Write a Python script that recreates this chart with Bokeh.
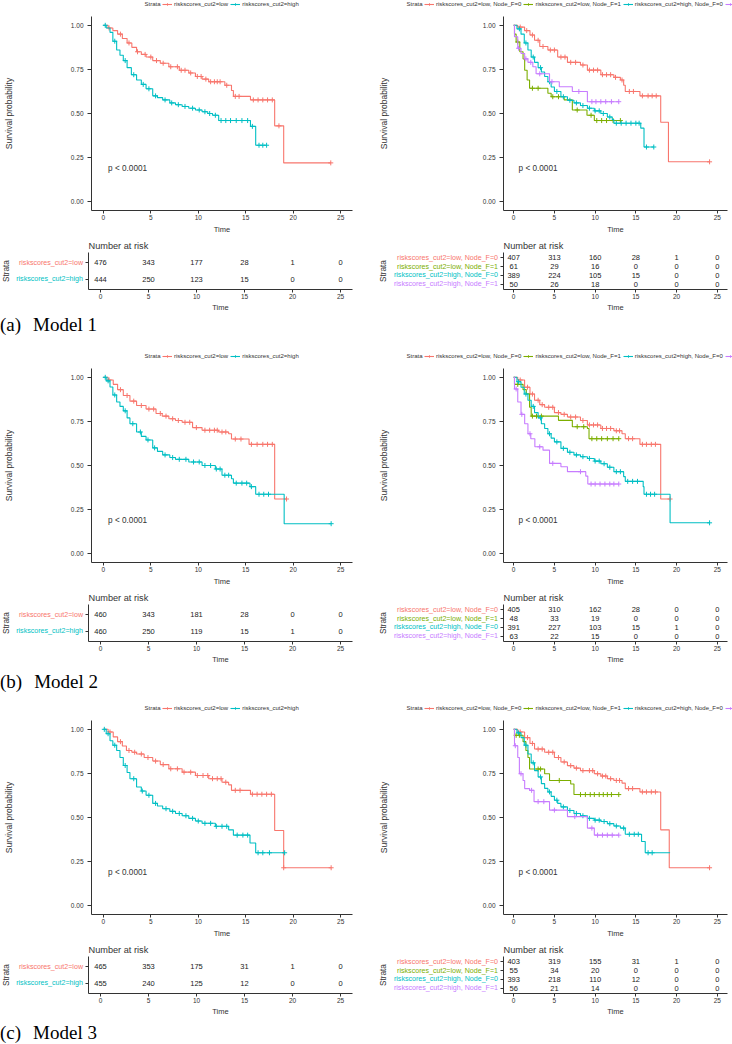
import numpy as np
from bokeh.plotting import figure
from bokeh.models import (Legend, LegendItem, Label, FixedTicker, NumeralTickFormatter,
                          Div, Range1d)
from bokeh.layouts import column, row
from bokeh.embed import file_html
from bokeh.resources import INLINE
from bokeh.core.properties import value

FONT = "Liberation Sans"
AX = "#333333"

# ---------------- shared labels ----------------
TIMES = [0, 5, 10, 15, 20, 25]
SURV_TICKS = [0.0, 0.25, 0.5, 0.75, 1.0]
P_TEXT = "p < 0.0001"
STRATA2 = ["riskscores_cut2=low", "riskscores_cut2=high"]
STRATA4 = ["riskscores_cut2=low, Node_F=0", "riskscores_cut2=low, Node_F=1",
           "riskscores_cut2=high, Node_F=0", "riskscores_cut2=high, Node_F=1"]
COLORS2 = ["#F8766D", "#00BFC4"]
COLORS4 = ["#F8766D", "#7CAE00", "#00BFC4", "#C77CFF"]
CAPTIONS = ["(a)", "(b)", "(c)"]
MODELS = ["Model 1", "Model 2", "Model 3"]

# ---------------- Model 1 ----------------
m1_low_t = [0, 0.5, 1.0, 1.5, 2.0, 2.5, 3.0, 3.5, 4.0, 4.5, 5.2, 6.0, 6.9, 8.0, 9.0, 9.7, 10.4, 11.1, 12.8, 13.5, 13.7, 15.5, 18.05, 19.0, 23.96]
m1_low_s = [1.0, 0.985, 0.97, 0.95, 0.925, 0.90, 0.875, 0.85, 0.835, 0.82, 0.80, 0.785, 0.765, 0.745, 0.73, 0.71, 0.695, 0.68, 0.66, 0.63, 0.597, 0.577, 0.43, 0.22, 0.22]
m1_high_t = [0, 0.3, 0.7, 1.0, 1.4, 1.75, 2.1, 2.5, 2.95, 3.5, 4.0, 4.5, 5.2, 5.7, 6.25, 7.0, 7.6, 8.3, 9.0, 9.7, 10.4, 11.0, 11.5, 12.15, 15.5, 16.05, 17.2]
m1_high_s = [1.0, 0.985, 0.96, 0.91, 0.86, 0.83, 0.80, 0.76, 0.72, 0.69, 0.665, 0.64, 0.60, 0.59, 0.577, 0.56, 0.55, 0.54, 0.53, 0.52, 0.51, 0.50, 0.49, 0.46, 0.427, 0.32, 0.32]
m1_low_cens = [0.6, 1.8, 2.7, 3.6, 4.4, 5.0, 5.6, 6.3, 7.1, 7.8, 8.2, 8.6, 9.2, 9.9, 10.3, 10.8, 11.3, 11.7, 12.0, 12.3, 13.0, 13.9, 14.3, 15.8, 16.3, 16.8, 17.3, 17.8, 18.5, 23.96]
m1_high_cens = [0.2, 1.2, 2.3, 3.2, 4.2, 4.8, 5.5, 6.5, 7.2, 7.9, 8.6, 9.4, 10.1, 10.7, 11.2, 11.8, 12.4, 12.9, 13.4, 14.0, 14.6, 15.2, 15.7, 16.4, 16.8, 17.2]

m1_lf0_t = [0, 0.5, 1.34, 2.0, 2.56, 3.2, 4.2, 5.4, 6.6, 8.2, 9.05, 10.7, 12.3, 13.1, 13.5, 13.7, 15.5, 18.05, 19.0, 24.05]
m1_lf0_s = [1.0, 0.99, 0.97, 0.945, 0.915, 0.88, 0.86, 0.82, 0.79, 0.775, 0.746, 0.72, 0.705, 0.69, 0.66, 0.625, 0.60, 0.45, 0.226, 0.226]
m1_lf1_t = [0, 0.1, 0.3, 0.75, 1.15, 1.35, 1.65, 1.95, 4.2, 4.6, 6.2, 7.2, 9.0, 9.9, 13.1]
m1_lf1_s = [1.0, 0.95, 0.905, 0.85, 0.81, 0.745, 0.69, 0.643, 0.615, 0.595, 0.577, 0.52, 0.49, 0.46, 0.46]
m1_hf0_t = [0, 0.4, 0.9, 1.3, 1.75, 2.15, 2.56, 3.0, 3.4, 3.8, 4.2, 4.6, 5.0, 5.8, 6.6, 7.4, 8.2, 9.05, 9.9, 10.7, 11.5, 12.1, 12.3, 15.6, 16.0, 17.2]
m1_hf0_s = [1.0, 0.98, 0.95, 0.90, 0.86, 0.82, 0.79, 0.76, 0.735, 0.71, 0.68, 0.65, 0.625, 0.595, 0.575, 0.56, 0.545, 0.53, 0.515, 0.50, 0.48, 0.465, 0.445, 0.417, 0.31, 0.31]
m1_hf1_t = [0, 0.1, 0.5, 0.9, 1.35, 1.75, 2.35, 2.75, 4.4, 5.6, 7.2, 9.05, 12.9]
m1_hf1_s = [1.0, 0.935, 0.87, 0.84, 0.81, 0.79, 0.765, 0.725, 0.68, 0.652, 0.625, 0.567, 0.567]
m1_lf0_cens = [0.8, 1.6, 2.3, 3.0, 3.6, 4.5, 5.0, 5.8, 6.3, 7.0, 7.6, 8.5, 9.3, 9.8, 10.3, 10.9, 11.4, 11.9, 12.5, 13.3, 14.2, 14.7, 15.8, 16.5, 17.0, 17.5, 24.05]
m1_lf1_cens = [0.5, 2.3, 3.0, 4.8, 5.5, 7.8, 9.5, 10.2, 10.8, 11.4, 12.2, 13.1]
m1_hf0_cens = [0.7, 1.5, 2.4, 3.3, 4.4, 5.3, 6.1, 6.9, 7.7, 8.5, 9.3, 10.0, 10.5, 11.0, 11.8, 12.6, 13.2, 13.8, 14.4, 15.0, 15.4, 16.3, 17.2]
m1_hf1_cens = [0.6, 1.5, 2.1, 3.2, 4.7, 8.0, 9.6, 10.1, 10.7, 11.3, 12.0, 12.9]

m1_risk2 = [[476, 343, 177, 28, 1, 0], [444, 250, 123, 15, 0, 0]]
m1_risk4 = [[407, 313, 160, 28, 1, 0], [61, 29, 16, 0, 0, 0], [389, 224, 105, 15, 0, 0], [50, 26, 18, 0, 0, 0]]

# ---------------- Model 2 ----------------
m2_low_t = [0, 0.5, 1.04, 1.5, 2.1, 2.8, 3.5, 4.5, 5.55, 6.2, 6.9, 7.6, 8.3, 9.4, 10.4, 12.15, 13.2, 13.5, 15.35, 18.05, 19.3]
m2_low_s = [1.0, 0.985, 0.96, 0.93, 0.897, 0.865, 0.84, 0.82, 0.795, 0.78, 0.765, 0.755, 0.745, 0.715, 0.70, 0.69, 0.68, 0.65, 0.62, 0.31, 0.31]
m2_high_t = [0, 0.3, 0.7, 1.0, 1.4, 1.75, 2.1, 2.5, 2.8, 3.5, 4.0, 4.5, 5.2, 5.7, 6.25, 7.0, 7.6, 9.0, 10.4, 11.8, 12.5, 13.5, 13.7, 15.45, 16.05, 19.05, 24.0]
m2_high_s = [1.0, 0.98, 0.945, 0.90, 0.86, 0.835, 0.81, 0.77, 0.737, 0.69, 0.665, 0.645, 0.60, 0.58, 0.56, 0.545, 0.535, 0.52, 0.50, 0.48, 0.445, 0.425, 0.40, 0.38, 0.337, 0.17, 0.17]
m2_low_cens = [0.6, 1.8, 2.5, 3.2, 4.0, 4.8, 5.3, 6.0, 6.6, 7.3, 7.9, 8.6, 9.1, 9.8, 10.7, 11.2, 11.7, 12.0, 12.5, 12.9, 13.9, 14.5, 15.6, 16.2, 16.8, 17.3, 17.8, 19.3]
m2_high_cens = [0.2, 0.5, 1.2, 2.3, 3.1, 3.9, 4.7, 5.4, 6.5, 7.3, 8.0, 8.7, 9.5, 10.1, 10.7, 11.3, 11.9, 12.3, 12.8, 13.2, 14.0, 14.6, 15.1, 15.6, 16.4, 16.9, 17.4, 24.0]

m2_lf0_t = [0, 0.5, 1.34, 2.0, 2.56, 3.2, 3.8, 5.0, 5.8, 6.6, 8.2, 9.05, 10.7, 12.3, 13.3, 13.7, 15.5, 18.05, 19.2]
m2_lf0_s = [1.0, 0.985, 0.944, 0.905, 0.87, 0.845, 0.83, 0.80, 0.79, 0.775, 0.755, 0.73, 0.71, 0.697, 0.68, 0.652, 0.62, 0.31, 0.31]
m2_lf1_t = [0, 0.1, 1.15, 1.55, 1.95, 2.15, 5.5, 7.2, 9.05, 9.25, 12.9]
m2_lf1_s = [1.0, 0.96, 0.93, 0.906, 0.83, 0.78, 0.756, 0.72, 0.71, 0.652, 0.652]
m2_hf0_t = [0, 0.4, 0.9, 1.3, 1.75, 2.15, 2.56, 3.0, 3.4, 3.8, 4.2, 4.6, 5.0, 5.8, 6.6, 7.4, 8.2, 9.05, 9.9, 10.7, 11.5, 12.3, 13.5, 13.7, 15.9, 16.0, 19.2, 24.05]
m2_hf0_s = [1.0, 0.975, 0.944, 0.905, 0.87, 0.835, 0.80, 0.77, 0.737, 0.71, 0.68, 0.655, 0.634, 0.597, 0.575, 0.56, 0.55, 0.54, 0.525, 0.51, 0.49, 0.465, 0.437, 0.41, 0.38, 0.337, 0.175, 0.175]
m2_hf1_t = [0, 0.1, 0.5, 0.9, 1.35, 1.75, 2.1, 2.6, 3.6, 4.4, 5.8, 6.6, 8.85, 9.1, 12.9]
m2_hf1_s = [1.0, 0.934, 0.86, 0.79, 0.737, 0.68, 0.652, 0.606, 0.587, 0.512, 0.493, 0.465, 0.44, 0.395, 0.395]
m2_lf0_cens = [0.8, 1.7, 2.3, 3.0, 3.5, 4.3, 4.8, 5.5, 6.2, 7.0, 7.6, 8.5, 9.3, 9.8, 10.3, 10.9, 11.4, 11.9, 12.6, 13.0, 14.1, 14.6, 15.8, 16.3, 16.9, 17.4, 19.2]
m2_lf1_cens = [0.5, 2.3, 2.8, 3.4, 7.8, 8.6, 9.6, 10.2, 10.8, 11.5, 12.2, 12.9]
m2_hf0_cens = [0.6, 1.5, 2.4, 3.3, 4.4, 5.3, 6.1, 6.9, 7.7, 8.5, 9.3, 10.0, 10.5, 11.1, 11.8, 12.6, 13.1, 14.0, 14.6, 15.2, 16.3, 16.8, 17.3, 24.05]
m2_hf1_cens = [0.3, 1.0, 2.0, 3.2, 4.8, 8.2, 9.5, 10.0, 10.6, 11.2, 11.8, 12.3, 12.9]

m2_risk2 = [[460, 343, 181, 28, 0, 0], [460, 250, 119, 15, 1, 0]]
m2_risk4 = [[405, 310, 162, 28, 0, 0], [48, 33, 19, 0, 0, 0], [391, 227, 103, 15, 1, 0], [63, 22, 15, 0, 0, 0]]

# ---------------- Model 3 ----------------
m3_low_t = [0, 0.5, 1.04, 1.5, 2.0, 2.43, 3.0, 3.5, 4.3, 5.2, 6.0, 6.9, 8.3, 9.7, 11.1, 12.5, 13.2, 13.5, 15.5, 18.05, 19.0, 24.0]
m3_low_s = [1.0, 0.985, 0.957, 0.93, 0.905, 0.88, 0.87, 0.86, 0.84, 0.82, 0.80, 0.776, 0.757, 0.738, 0.72, 0.70, 0.685, 0.654, 0.632, 0.426, 0.215, 0.215]
m3_high_t = [0, 0.3, 0.7, 1.0, 1.4, 1.75, 2.1, 2.5, 2.8, 3.5, 4.0, 4.5, 5.2, 5.7, 6.25, 7.0, 7.6, 8.3, 9.0, 9.7, 10.4, 11.8, 13.2, 13.7, 15.45, 16.05, 19.1]
m3_high_s = [1.0, 0.975, 0.935, 0.91, 0.88, 0.84, 0.795, 0.755, 0.72, 0.673, 0.65, 0.626, 0.58, 0.565, 0.55, 0.535, 0.523, 0.51, 0.495, 0.48, 0.467, 0.45, 0.43, 0.40, 0.355, 0.30, 0.30]
m3_low_cens = [0.7, 1.8, 2.7, 3.3, 4.0, 4.7, 5.5, 6.3, 7.1, 7.8, 8.5, 9.2, 9.9, 10.5, 11.0, 11.5, 12.0, 12.4, 12.9, 13.9, 14.4, 15.7, 16.2, 16.7, 17.2, 17.7, 19.0, 24.0]
m3_high_cens = [0.1, 0.5, 1.2, 2.3, 3.2, 4.1, 4.8, 5.5, 6.6, 7.3, 8.0, 8.7, 9.4, 10.0, 10.7, 11.3, 11.9, 12.5, 13.0, 14.1, 14.7, 15.2, 16.3, 16.8, 17.5, 19.1]

m3_lf0_t = [0, 0.5, 1.34, 2.0, 2.56, 3.8, 5.0, 5.8, 6.6, 7.4, 8.2, 9.9, 10.7, 11.5, 12.3, 13.3, 13.7, 15.5, 18.05, 19.1, 24.05]
m3_lf0_s = [1.0, 0.985, 0.953, 0.92, 0.888, 0.87, 0.84, 0.815, 0.794, 0.78, 0.766, 0.748, 0.735, 0.72, 0.71, 0.695, 0.664, 0.645, 0.43, 0.215, 0.215]
m3_lf1_t = [0, 0.1, 1.15, 1.5, 1.75, 1.95, 3.8, 4.4, 7.0, 7.4, 12.9]
m3_lf1_s = [1.0, 0.966, 0.93, 0.88, 0.84, 0.775, 0.748, 0.71, 0.69, 0.63, 0.63]
m3_hf0_t = [0, 0.4, 0.9, 1.3, 1.75, 2.15, 2.56, 3.0, 3.4, 3.8, 4.2, 4.6, 5.0, 5.4, 5.8, 6.6, 7.4, 8.2, 9.05, 9.9, 10.7, 11.5, 12.3, 13.1, 13.7, 15.7, 16.15, 19.2]
m3_hf0_s = [1.0, 0.98, 0.953, 0.91, 0.86, 0.81, 0.766, 0.73, 0.692, 0.665, 0.645, 0.62, 0.598, 0.58, 0.56, 0.54, 0.523, 0.51, 0.495, 0.485, 0.477, 0.465, 0.452, 0.44, 0.405, 0.364, 0.30, 0.30]
m3_hf1_t = [0, 0.1, 0.5, 0.7, 1.15, 1.35, 1.95, 2.5, 4.4, 6.6, 9.05, 9.9, 12.9]
m3_hf1_s = [1.0, 0.907, 0.84, 0.748, 0.71, 0.664, 0.654, 0.59, 0.542, 0.505, 0.44, 0.40, 0.40]
m3_lf0_cens = [0.8, 1.7, 2.3, 3.0, 3.5, 4.3, 4.8, 5.5, 6.2, 7.0, 7.7, 8.5, 9.3, 9.7, 10.3, 10.9, 11.3, 11.9, 12.6, 13.0, 14.1, 14.6, 15.8, 16.3, 16.9, 17.4, 24.05]
m3_lf1_cens = [0.3, 0.7, 3.0, 3.3, 5.6, 8.2, 8.8, 9.4, 9.9, 10.5, 11.0, 11.5, 12.0, 12.9]
m3_hf0_cens = [0.6, 1.5, 2.4, 3.3, 4.4, 5.3, 6.1, 6.9, 7.7, 8.5, 9.3, 10.0, 10.5, 11.1, 11.8, 12.6, 13.5, 14.2, 14.8, 15.3, 16.5, 17.0]
m3_hf1_cens = [0.2, 0.9, 2.2, 3.0, 3.7, 5.0, 7.5, 9.6, 10.3, 10.9, 11.5, 12.1, 12.9]

m3_risk2 = [[465, 353, 175, 31, 1, 0], [455, 240, 125, 12, 0, 0]]
m3_risk4 = [[403, 319, 155, 31, 1, 0], [55, 34, 20, 0, 0, 0], [393, 218, 110, 12, 0, 0], [56, 21, 14, 0, 0, 0]]


# ---------------- helpers ----------------
def plain_fig(w, h, xr, yr, **kw):
    p = figure(width=w, height=h, x_range=xr, y_range=yr, output_backend="svg",
               toolbar_location=None, **kw)
    p.outline_line_color = None
    p.background_fill_color = "white"
    p.border_fill_color = "white"
    for g in p.grid:
        g.visible = False
    return p


def style_axes(p):
    for ax in list(p.xaxis) + list(p.yaxis):
        ax.axis_line_color = AX
        ax.axis_line_width = 1
        ax.major_tick_line_color = AX
        ax.minor_tick_line_color = None
        ax.major_tick_in = 0
        ax.major_label_text_font = FONT
        ax.major_label_text_font_size = "6.5px"
        ax.major_label_text_color = AX
        ax.axis_label_text_font = FONT
        ax.axis_label_text_font_style = "normal"
        ax.axis_label_text_color = AX
    p.xaxis.ticker = FixedTicker(ticks=TIMES)
    p.xaxis.major_tick_out = 3
    p.xaxis.major_label_standoff = 1
    p.xaxis.axis_label = "Time"
    p.xaxis.axis_label_text_font_size = "7.5px"


def add_curves(p, curves, cens, colors):
    rends = []
    for (t, s), c, col in zip(curves, cens, colors):
        t = np.asarray(t, float)
        s = np.asarray(s, float)
        r1 = p.step(t, s, mode="after", line_color=col, line_width=1.1)
        ct = np.asarray(c, float)
        idx = np.clip(np.searchsorted(t, ct, side="right") - 1, 0, len(s) - 1)
        r2 = p.scatter(ct, s[idx], marker="cross", size=5, line_color=col, line_width=1)
        rends.append((r1, r2))
    return rends


def legend_strip(curves, cens, labels, colors, right):
    # the strip's x range lies far left of the data, so only the legend keys show
    ox = -1000.0
    p = plain_fig(366, 16, Range1d(ox, ox + 366), Range1d(0, 16), min_border=0,
                  x_axis_location=None, y_axis_location=None)
    rends = add_curves(p, curves, cens, colors)
    shown = list(labels)
    if right:
        shown[-1] = ""  # cut off at the page edge in the reference
    items = [LegendItem(label=lab, renderers=[r1, r2]) for lab, (r1, r2) in zip(shown, rends)]
    start = 58 if right else 162
    leg = Legend(items=items, orientation="horizontal", location=(start, 9.5),
                 glyph_width=10, glyph_height=6, label_height=6, label_standoff=2,
                 spacing=2, padding=0, margin=0, border_line_color=None,
                 background_fill_alpha=0)
    leg.label_text_font = FONT
    leg.label_text_font_size = "6px"
    leg.label_text_color = AX
    p.add_layout(leg)
    p.text(x=[ox + start - 18], y=[13], text=["Strata"], text_align="left",
           text_baseline="middle", text_font=value(FONT), text_font_size="6px",
           text_color=AX)
    return p


def km_fig(curves, cens, colors, right):
    bl, br, lstand = (137, 5, 91) if right else (88, 14, 54)
    p = plain_fig(366, 220, Range1d(-1.25, 26.25), Range1d(-0.05, 1.05),
                  min_border_left=bl, min_border_right=br, min_border_top=0,
                  min_border_bottom=25)
    style_axes(p)
    p.xaxis.axis_label_standoff = 2
    p.yaxis.ticker = FixedTicker(ticks=SURV_TICKS)
    p.yaxis.formatter = NumeralTickFormatter(format="0.00")
    p.yaxis.major_tick_out = 4
    p.yaxis.major_label_standoff = 4
    p.yaxis.axis_label = "Survival probability"
    p.yaxis.axis_label_text_font_size = "8.5px"
    p.yaxis.axis_label_standoff = lstand
    add_curves(p, curves, cens, colors)
    p.add_layout(Label(x=0.6 if right else 0.5, y=0.19, text=P_TEXT, text_font=FONT,
                       text_font_size="8.2px", text_color=AX,
                       text_align="left", text_baseline="middle"))
    return p


def label_fig(labels, colors, right):
    n = len(labels)
    w = 133 if right else 84
    p = plain_fig(w, 78, Range1d(0, w), Range1d(0.4, n + 0.6), min_border_left=0,
                  min_border_right=0, min_border_top=14, min_border_bottom=21,
                  x_axis_location=None, y_axis_location=None)
    ys = [n - i for i in range(n)]
    p.text(x=[w - 1.5] * n, y=ys, text=labels, text_color=colors, text_align="right",
           text_baseline="middle", text_font=value(FONT), text_font_size="7.1px")
    p.text(x=[17 if right else 5.5], y=[(n + 1) / 2.0], text=["Strata"], angle=np.pi / 2,
           text_align="center", text_baseline="middle", text_font=value(FONT),
           text_font_size="8.2px", text_color=AX)
    return p


def table_fig(counts, right):
    n = len(counts)
    w, br = (233, 5) if right else (282, 14)
    p = plain_fig(w, 78, Range1d(-1.25, 26.25), Range1d(0.4, n + 0.6),
                  min_border_left=4, min_border_right=br, min_border_top=14,
                  min_border_bottom=21)
    style_axes(p)
    p.xaxis.axis_label_standoff = 1
    ys = [n - i for i in range(n)]
    p.yaxis.ticker = FixedTicker(ticks=ys)
    p.yaxis.major_label_overrides = {y: "" for y in ys}
    p.yaxis.major_tick_out = 3
    p.yaxis.major_label_standoff = 0
    xs, yv, tx = [], [], []
    for yy, rc in zip(ys, counts):
        for t, v in zip(TIMES, rc):
            xs.append(t)
            yv.append(yy)
            tx.append(str(v))
    p.text(x=xs, y=yv, text=tx, text_align="center", text_baseline="middle",
           text_font=value(FONT), text_font_size="7.5px", text_color="#222222")
    p.title.text = "Number at risk"
    p.title.align = "left"
    p.title.text_font = FONT
    p.title.text_font_size = "9.2px"
    p.title.text_font_style = "normal"
    p.title.text_color = AX
    p.title.standoff = 4
    p.title.offset = 0
    return p


def caption(tag, name, h, pad):
    html = ('<div style="font-family:\'Liberation Serif\';font-size:19px;line-height:20px;'
            'color:#000;padding-top:%dpx;white-space:nowrap">%s'
            '<span style="padding-left:12px">%s</span></div>') % (pad, tag, name)
    return Div(text=html, width=732, height=h, margin=0)


models = [
    dict(c2=[(m1_low_t, m1_low_s), (m1_high_t, m1_high_s)], e2=[m1_low_cens, m1_high_cens],
         c4=[(m1_lf0_t, m1_lf0_s), (m1_lf1_t, m1_lf1_s), (m1_hf0_t, m1_hf0_s), (m1_hf1_t, m1_hf1_s)],
         e4=[m1_lf0_cens, m1_lf1_cens, m1_hf0_cens, m1_hf1_cens], r2=m1_risk2, r4=m1_risk4),
    dict(c2=[(m2_low_t, m2_low_s), (m2_high_t, m2_high_s)], e2=[m2_low_cens, m2_high_cens],
         c4=[(m2_lf0_t, m2_lf0_s), (m2_lf1_t, m2_lf1_s), (m2_hf0_t, m2_hf0_s), (m2_hf1_t, m2_hf1_s)],
         e4=[m2_lf0_cens, m2_lf1_cens, m2_hf0_cens, m2_hf1_cens], r2=m2_risk2, r4=m2_risk4),
    dict(c2=[(m3_low_t, m3_low_s), (m3_high_t, m3_high_s)], e2=[m3_low_cens, m3_high_cens],
         c4=[(m3_lf0_t, m3_lf0_s), (m3_lf1_t, m3_lf1_s), (m3_hf0_t, m3_hf0_s), (m3_hf1_t, m3_hf1_s)],
         e4=[m3_lf0_cens, m3_lf1_cens, m3_hf0_cens, m3_hf1_cens], r2=m3_risk2, r4=m3_risk4),
]

cap_geom = [(38, 1), (38, 6), (26, 5)]

blocks = []
for i, m in enumerate(models):
    blocks.append(row(legend_strip(m["c2"], m["e2"], STRATA2, COLORS2, False),
                      legend_strip(m["c4"], m["e4"], STRATA4, COLORS4, True), spacing=0))
    blocks.append(row(km_fig(m["c2"], m["e2"], COLORS2, False),
                      km_fig(m["c4"], m["e4"], COLORS4, True), spacing=0))
    blocks.append(row(label_fig(STRATA2, COLORS2, False), table_fig(m["r2"], False),
                      label_fig(STRATA4, COLORS4, True), table_fig(m["r4"], True),
                      spacing=0))
    h, pad = cap_geom[i]
    blocks.append(caption(CAPTIONS[i], MODELS[i], h, pad))

layout = column(*blocks, spacing=0)

with open("out.html", "w") as f:
    f.write(file_html(layout, INLINE))
